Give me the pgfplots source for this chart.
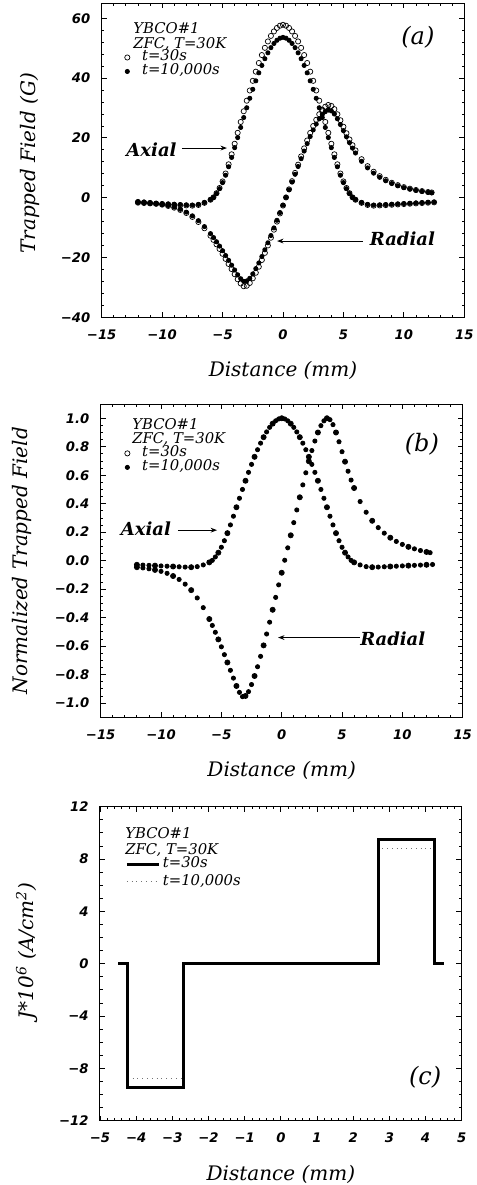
\documentclass[border=0pt]{standalone}
\usepackage{fontspec}
\usepackage{pgfplots}
\pgfplotsset{compat=1.18}
\usepackage{pgfplotstable}
\usetikzlibrary{arrows.meta}
\newfontfamily\tickfont{DejaVu Sans}
\newfontfamily\serfont{DejaVu Serif}
\newcommand\tkf{\tickfont\bfseries\itshape\fontsize{6.6}{7}\selectfont}
\newcommand\lbf{\serfont\itshape\fontsize{10}{11}\selectfont}
\newcommand\lgf{\serfont\itshape\fontsize{7.4}{8}\selectfont}
\newcommand\anf{\serfont\bfseries\itshape\fontsize{9}{10}\selectfont}
\newcommand\pnf{\serfont\itshape\fontsize{12}{12}\selectfont}

% Axial: x, t=30s (G), t=10000s (G), normalized
\pgfplotstableread{
x a30 a10 an
-12.0 -1.68 -1.55 -0.029
-11.5 -1.79 -1.66 -0.031
-11.0 -1.91 -1.77 -0.033
-10.5 -2.02 -1.88 -0.035
-10.0 -2.14 -1.98 -0.037
-9.5 -2.25 -2.09 -0.039
-9.0 -2.37 -2.20 -0.041
-8.5 -2.49 -2.30 -0.043
-8.0 -2.60 -2.41 -0.045
-7.5 -2.66 -2.47 -0.046
-7.0 -2.43 -2.25 -0.042
-6.5 -1.73 -1.61 -0.030
-6.0 -0.69 -0.64 -0.012
-5.75 0.12 0.11 0.002
-5.5 1.50 1.39 0.026
-5.25 3.24 3.00 0.056
-5.0 5.43 5.04 0.094
-4.75 8.09 7.50 0.140
-4.5 11.16 10.34 0.193
-4.25 14.51 13.45 0.251
-4.0 18.03 16.72 0.312
-3.75 21.68 20.10 0.375
-3.5 25.32 23.48 0.438
-3.25 28.90 26.80 0.500
-3.0 32.43 30.07 0.561
-2.75 35.84 33.23 0.620
-2.5 39.07 36.23 0.676
-2.25 42.14 39.07 0.729
-2.0 45.03 41.75 0.779
-1.75 47.69 44.22 0.825
-1.5 50.11 46.47 0.867
-1.25 52.25 48.45 0.904
-1.0 54.10 50.17 0.936
-0.75 55.60 51.56 0.962
-0.5 56.76 52.64 0.982
-0.25 57.51 53.33 0.995
0.0 57.80 53.60 1.000
0.25 57.51 53.33 0.995
0.5 56.76 52.64 0.982
0.75 55.60 51.56 0.962
1.0 54.10 50.17 0.936
1.25 52.25 48.45 0.904
1.5 50.11 46.47 0.867
1.75 47.69 44.22 0.825
2.0 45.03 41.75 0.779
2.25 42.14 39.07 0.729
2.5 39.07 36.23 0.676
2.75 35.84 33.23 0.620
3.0 32.43 30.07 0.561
3.25 28.90 26.80 0.500
3.5 25.32 23.48 0.438
3.75 21.68 20.10 0.375
4.0 18.03 16.72 0.312
4.25 14.51 13.45 0.251
4.5 11.16 10.34 0.193
4.75 8.09 7.50 0.140
5.0 5.43 5.04 0.094
5.25 3.24 3.00 0.056
5.5 1.50 1.39 0.026
5.75 0.12 0.11 0.002
6.0 -0.69 -0.64 -0.012
6.5 -1.73 -1.61 -0.030
7.0 -2.43 -2.25 -0.042
7.5 -2.66 -2.47 -0.046
8.0 -2.60 -2.41 -0.045
8.5 -2.49 -2.30 -0.043
9.0 -2.37 -2.20 -0.041
9.5 -2.25 -2.09 -0.039
10.0 -2.14 -1.98 -0.037
10.5 -2.02 -1.88 -0.035
11.0 -1.91 -1.77 -0.033
11.5 -1.79 -1.66 -0.031
12.0 -1.68 -1.55 -0.029
12.5 -1.56 -1.45 -0.027
}\axialtab

% Radial: x, t=30s (G), t=10000s (G), normalized
\pgfplotstableread{
x r30 r10 rn
-12.0 -1.43 -1.35 -0.046
-11.5 -1.58 -1.49 -0.051
-11.0 -1.77 -1.67 -0.057
-10.5 -2.02 -1.90 -0.065
-10.0 -2.33 -2.20 -0.075
-9.5 -2.76 -2.61 -0.089
-9.0 -3.35 -3.16 -0.108
-8.5 -4.09 -3.87 -0.132
-8.0 -5.12 -4.83 -0.165
-7.5 -6.42 -6.07 -0.207
-7.0 -8.12 -7.68 -0.262
-6.5 -10.23 -9.67 -0.330
-6.0 -12.71 -12.01 -0.410
-5.75 -14.11 -13.33 -0.455
-5.5 -15.59 -14.74 -0.503
-5.25 -17.14 -16.20 -0.553
-5.0 -18.76 -17.73 -0.605
-4.75 -20.46 -19.34 -0.660
-4.5 -22.17 -20.95 -0.715
-4.25 -23.87 -22.56 -0.770
-4.0 -25.58 -24.17 -0.825
-3.75 -27.28 -25.78 -0.880
-3.5 -28.68 -27.10 -0.925
-3.25 -29.61 -27.98 -0.955
-3.0 -29.45 -27.84 -0.950
-2.75 -28.52 -26.96 -0.920
-2.5 -26.97 -25.49 -0.870
-2.25 -25.11 -23.73 -0.810
-2.0 -23.10 -21.83 -0.745
-1.75 -20.83 -19.69 -0.672
-1.5 -18.45 -17.43 -0.595
-1.25 -15.97 -15.09 -0.515
-1.0 -13.39 -12.66 -0.432
-0.75 -10.70 -10.11 -0.345
-0.5 -8.00 -7.56 -0.258
-0.25 -5.27 -4.98 -0.170
0.0 -2.64 -2.49 -0.085
0.25 0.09 0.09 0.003
0.5 2.79 2.64 0.090
0.75 5.52 5.22 0.178
1.0 8.28 7.82 0.267
1.25 11.04 10.43 0.356
1.5 13.80 13.04 0.445
1.75 16.49 15.59 0.532
2.0 19.13 18.08 0.617
2.25 21.64 20.45 0.698
2.5 23.96 22.65 0.773
2.75 26.04 24.61 0.840
3.0 27.90 26.37 0.900
3.25 29.39 27.78 0.948
3.5 30.44 28.77 0.982
3.75 31.00 29.30 1.000
4.0 30.69 29.01 0.990
4.25 29.61 27.98 0.955
4.5 27.90 26.37 0.900
4.75 25.89 24.47 0.835
5.0 23.72 22.41 0.765
5.25 21.55 20.36 0.695
5.5 19.47 18.40 0.628
5.75 17.55 16.58 0.566
6.0 15.81 14.94 0.510
6.5 12.87 12.16 0.415
7.0 10.54 9.96 0.340
7.5 8.68 8.20 0.280
8.0 7.19 6.80 0.232
8.5 5.98 5.65 0.193
9.0 4.99 4.72 0.161
9.5 4.19 3.96 0.135
10.0 3.53 3.34 0.114
10.5 3.01 2.84 0.097
11.0 2.57 2.43 0.083
11.5 2.20 2.08 0.071
12.0 1.89 1.79 0.061
12.3 1.74 1.64 0.056
}\radialtab

\tikzset{arr/.style={-{Stealth[length=3.2pt,width=2.4pt]}, line width=0.45pt}}
\pgfplotsset{
  myaxis/.style={
    scale only axis, anchor=south west,
    tick align=inside,
    major tick length=2.6pt, minor tick length=1.3pt,
    every tick/.style={black, line width=0.4pt},
    axis line style={line width=0.5pt},
    tick label style={font=\tkf},
    yticklabel style={xshift=-2.2pt},
    xticklabel style={yshift=-2.6pt},
    label style={font=\lbf},
    xlabel style={at={(axis description cs:0.5,-0.17)}, anchor=center},
    legend cell align=left,
    legend style={draw=none, fill=none, inner sep=0pt, font=\lgf, row sep=0pt,
      nodes={inner sep=0.4pt, text height=4.8pt, text depth=1.4pt}},
  },
  openm/.style={only marks, mark=o, mark size=1.3pt, mark options={line width=0.35pt, fill=white}},
  fillm/.style={only marks, mark=*, mark size=1.05pt},
  openleg/.style={legend image code/.code={\path[draw=none,fill=none] (0pt,0pt) rectangle (10pt,0.1pt); \draw[solid, black, line width=0.35pt, fill=white] (3pt,0pt) circle (1.3pt);}},
  fillleg/.style={legend image code/.code={\path[draw=none,fill=none] (0pt,0pt) rectangle (10pt,0.1pt); \fill[black] (3pt,0pt) circle (1.05pt);}},
}

\begin{document}
\begin{tikzpicture}
\useasboundingbox (0pt,0pt) rectangle (238.5pt,592.5pt);

% ---------------- (a)
\begin{axis}[myaxis, at={(50.85pt,433.85pt)}, width=181.3pt, height=157pt,
  xmin=-15, xmax=15, ymin=-40, ymax=65,
  xtick={-15,-10,-5,0,5,10,15}, xticklabels={−15,−10,−5,0,5,10,15},
  ytick={-40,-20,0,20,40,60}, yticklabels={−40,−20,0,20,40,60},
  minor x tick num=4, minor y tick num=4,
  xlabel={Distance (mm)}, ylabel={Trapped Field (G)},
  ylabel style={at={(axis description cs:-0.199,0.49)}, anchor=center},
  legend style={at={(axis description cs:0.053,0.851)}, anchor=north west},
]
\addplot[openm, openleg] table[x=x,y=a30] {\axialtab};
\addlegendentry{t=30s}
\addplot[fillm, fillleg] table[x=x,y=a10] {\axialtab};
\addlegendentry{t=10,000s}
\addplot[openm, forget plot] table[x=x,y=r30] {\radialtab};
\addplot[fillm, forget plot] table[x=x,y=r10] {\radialtab};
\node[anchor=west, inner sep=0pt, font=\lgf] at (axis cs:-12.41,56.8) {YBCO\#1};
\node[anchor=west, inner sep=0pt, font=\lgf] at (axis cs:-12.41,51.4) {ZFC, T=30K};
\node[font=\pnf] at (axis cs:11.16,53.7) {(a)};
\node[font=\anf] at (axis cs:-10.88,15.95) {Axial};
\draw[arr] (axis cs:-8.36,16.6) -- (axis cs:-4.64,16.6);
\node[font=\anf] at (axis cs:9.88,-13.8) {Radial};
\draw[arr] (axis cs:6.61,-14.5) -- (axis cs:-0.49,-14.5);
\end{axis}

% ---------------- (b)
\begin{axis}[myaxis, at={(50.35pt,233.85pt)}, width=181pt, height=156.65pt,
  xmin=-15, xmax=15, ymin=-1.1, ymax=1.1,
  xtick={-15,-10,-5,0,5,10,15}, xticklabels={−15,−10,−5,0,5,10,15},
  ytick={-1,-0.8,-0.6,-0.4,-0.2,0,0.2,0.4,0.6,0.8,1},
  yticklabels={−1.0,−0.8,−0.6,−0.4,−0.2,0.0,0.2,0.4,0.6,0.8,1.0},
  minor x tick num=4, minor y tick num=3,
  xlabel={Distance (mm)}, ylabel={Normalized Trapped Field},
  ylabel style={at={(axis description cs:-0.217,0.5)}, anchor=center},
  legend style={at={(axis description cs:0.056,0.866)}, anchor=north west},
]
\addplot[fillm, forget plot] table[x=x,y=an] {\axialtab};
\addplot[fillm, forget plot] table[x=x,y=rn] {\radialtab};
\addplot[openm, openleg, each nth point=3] table[x=x,y=an] {\axialtab};
\addlegendentry{t=30s}
\addlegendimage{fillm, fillleg}
\addlegendentry{t=10,000s}
\addplot[openm, each nth point=3, forget plot] table[x=x,y=rn] {\radialtab};
\node[anchor=west, inner sep=0pt, font=\lgf] at (axis cs:-12.41,0.96) {YBCO\#1};
\node[anchor=west, inner sep=0pt, font=\lgf] at (axis cs:-12.41,0.856) {ZFC, T=30K};
\node[font=\pnf] at (axis cs:11.62,0.82) {(b)};
\node[font=\anf] at (axis cs:-11.25,0.227) {Axial};
\draw[arr] (axis cs:-8.6,0.214) -- (axis cs:-5.36,0.214);
\node[font=\anf, anchor=west, inner sep=0pt] at (axis cs:6.48,-0.547) {Radial};
\draw[arr] (axis cs:6.48,-0.54) -- (axis cs:-0.30,-0.54);
\end{axis}

% ---------------- (c)
\begin{axis}[myaxis, at={(50pt,32.15pt)}, width=180.85pt, height=157pt,
  xmin=-5, xmax=5, ymin=-12, ymax=12,
  xtick={-5,-4,-3,-2,-1,0,1,2,3,4,5}, xticklabels={−5,−4,−3,−2,−1,0,1,2,3,4,5},
  ytick={-12,-8,-4,0,4,8,12}, yticklabels={−12,−8,−4,0,4,8,12},
  minor x tick num=4, minor y tick num=3,
  xlabel={Distance (mm)}, ylabel={J*10\textsuperscript{6} (A/cm\textsuperscript{2})},
  ylabel style={at={(axis description cs:-0.202,0.54)}, anchor=center},
  legend image code/.code={\draw[#1] (0pt,0pt) -- (16pt,0pt);},
  legend style={at={(axis description cs:0.069,0.846)}, anchor=north west,
    nodes={inner sep=1.3pt, text height=4.8pt, text depth=1.4pt}},
]
\addplot[black!55, line width=0.4pt, dotted, forget plot] coordinates {(-4.5,0) (-4.25,0) (-4.25,-8.8) (-2.7,-8.8) (-2.7,0) (2.7,0) (2.7,8.8) (4.25,8.8) (4.25,0) (4.5,0)};
\addplot[black, line width=1.5pt] coordinates {(-4.5,0) (-4.25,0) (-4.25,-9.5) (-2.7,-9.5) (-2.7,0) (2.7,0) (2.7,9.5) (4.25,9.5) (4.25,0) (4.5,0)};
\addlegendentry{t=30s}
\addlegendimage{black!55, line width=0.4pt, dotted}
\addlegendentry{t=10,000s}
\node[anchor=west, inner sep=0pt, font=\lgf] at (axis cs:-4.31,9.99) {YBCO\#1};
\node[anchor=west, inner sep=0pt, font=\lgf] at (axis cs:-4.31,8.69) {ZFC, T=30K};
\node[font=\pnf] at (axis cs:3.99,-8.67) {(c)};
\end{axis}
\end{tikzpicture}
\end{document}
